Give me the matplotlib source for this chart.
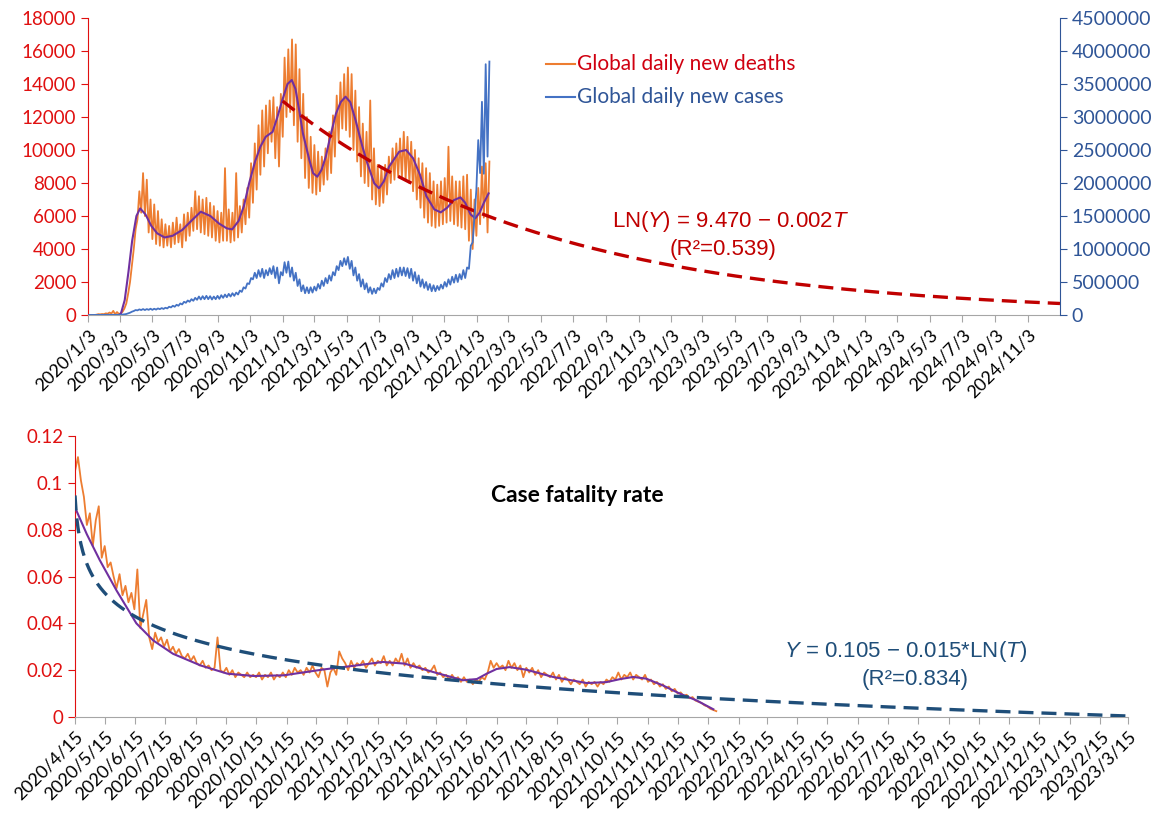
import matplotlib
matplotlib.use("Agg")
import matplotlib.pyplot as plt
from matplotlib.ticker import FuncFormatter
import numpy as np
import pandas as pd

plt.rcParams['font.family'] = ['Lato', 'DejaVu Sans']
plt.rcParams['mathtext.fontset'] = 'custom'
plt.rcParams['mathtext.rm'] = 'Liberation Sans'
plt.rcParams['mathtext.it'] = 'Liberation Sans:italic'

# ---------------- top chart data: one low/high pair per week, weeks start 2020/1/5 ----------------
deaths_lo = [0, 0, 20, 40,
             50, 80, 90, 40,
             60, 200, 700, 2000, 4000,
             5800, 6200, 6000, 5000,
             4600, 4300, 4200, 4100, 4200,
             4100, 4300, 4400, 4100,
             4500, 4800, 5100, 5200, 5000,
             4900, 4800, 4700, 4500,
             4400, 4500, 4500, 4400,
             4500, 4700, 5000, 5500,
             5900, 6800, 7600, 8500,
             9000, 9800, 10500, 9500, 9000,
             10800, 12000, 12300, 11500,
             10500, 9500, 8300, 7700,
             7400, 7300, 7500, 7900, 8200,
             8600, 9600, 10500, 11300,
             11200, 10800, 10000, 9300,
             8400, 8000, 7800, 7000, 6700,
             6600, 6800, 7300, 8000,
             8200, 8400, 8300, 8200,
             8000, 7500, 7000, 6500, 5900,
             5600, 5400, 5300, 5400,
             5500, 5600, 5700, 5500,
             5400, 5300, 5200, 4500, 4000,
             4800, 5500, 5900, 5000]
deaths_hi = [0, 0, 50, 60,
             100, 150, 250, 180,
             100, 400, 1300, 3000, 5200,
             7500, 8600, 8200, 7000,
             6700, 6300, 5800, 5500, 5400,
             5600, 5900, 5500, 6100,
             6200, 6500, 7500, 7200, 7000,
             7100, 6800, 6600, 6300,
             6200, 8900, 6400, 6200,
             8600, 6600, 7000, 7700,
             9200, 10400, 11500, 12400,
             12700, 13000, 13200, 12600, 13400,
             15600, 16100, 16700, 16400,
             14900, 13400, 12000, 10800,
             10300, 9900, 9600, 10100, 11100,
             12100, 13300, 14100, 14600,
             15000, 14600, 13600, 12600,
             11600, 11100, 13000, 10100, 9100,
             8900, 9100, 9600, 10100,
             10400, 10700, 11100, 10800,
             10500, 10000, 9500, 9200, 8900,
             8600, 8100, 7900, 8100,
             8300, 10200, 8400, 8100,
             8100, 8400, 8500, 7600, 7000,
             7700, 9000, 9200, 9300]

# daily new cases, thousands
cases_lo = [0, 0, 0.4, 1.5,
            3, 2.5, 1.5, 1.5,
            2, 6, 15, 35, 60,
            70, 75, 75, 78,
            78, 82, 88, 92, 100,
            115, 125, 140, 160,
            185, 200, 215, 230, 235,
            240, 240, 235, 240,
            245, 260, 270, 280,
            290, 310, 350, 400,
            470, 540, 560, 580,
            560, 600, 620, 560, 480,
            600, 640, 580, 520,
            440, 360, 330, 330,
            340, 370, 400, 440, 480,
            520, 600, 680, 740,
            760, 700, 600, 520,
            430, 390, 340, 320, 330,
            380, 430, 500, 540,
            560, 580, 600, 590,
            560, 520, 480, 430, 410,
            380, 360, 360, 380,
            400, 430, 460, 490,
            500, 540, 560, 700, 1100,
            1900, 2150, 2140, 2400]
cases_hi = [0, 0, 0.6, 2,
            4, 3.5, 2.5, 2,
            3, 10, 25, 50, 75,
            85, 90, 90, 95,
            95, 100, 105, 110, 125,
            140, 155, 175, 200,
            220, 240, 260, 280, 285,
            290, 285, 280, 290,
            300, 310, 320, 330,
            340, 370, 420, 480,
            560, 640, 680, 700,
            680, 710, 740, 720, 650,
            800, 810, 720, 640,
            540, 450, 420, 420,
            430, 470, 520, 560, 600,
            650, 740, 820, 860,
            880, 820, 720, 620,
            540, 480, 420, 400, 410,
            480, 560, 620, 680,
            700, 720, 720, 710,
            700, 650, 600, 540, 500,
            470, 450, 440, 460,
            500, 540, 580, 610,
            620, 680, 720, 1050, 1500,
            2650, 3230, 3800, 3840]

smooth_dates = ['2020-02-09', '2020-02-25', '2020-03-05', '2020-03-12', '2020-03-19', '2020-03-26',
                '2020-04-03', '2020-04-10', '2020-04-20', '2020-05-01', '2020-05-12', '2020-05-26',
                '2020-06-10', '2020-06-28', '2020-07-15', '2020-08-02', '2020-08-20', '2020-09-05',
                '2020-09-20', '2020-09-30', '2020-10-12', '2020-10-22', '2020-11-01', '2020-11-12',
                '2020-11-22', '2020-12-02', '2020-12-15', '2020-12-24', '2021-01-02', '2021-01-12',
                '2021-01-20', '2021-01-27', '2021-02-03', '2021-02-10', '2021-02-22', '2021-03-01',
                '2021-03-09', '2021-03-17', '2021-03-25', '2021-04-03', '2021-04-13', '2021-04-22',
                '2021-05-01', '2021-05-10', '2021-05-20', '2021-06-01', '2021-06-10', '2021-06-24',
                '2021-07-03', '2021-07-12', '2021-07-22', '2021-08-10', '2021-08-23', '2021-09-05',
                '2021-09-18', '2021-09-30', '2021-10-15', '2021-10-27', '2021-11-08', '2021-11-20',
                '2021-12-03', '2021-12-12', '2021-12-22', '2021-12-31', '2022-01-08', '2022-01-16',
                '2022-01-25']
smooth_deaths = [-130, -180, 100, 900, 2600, 4500,
                 6000, 6460, 6100, 5400, 4950, 4700,
                 4800, 5150, 5700, 6260, 6000, 5550,
                 5250, 5190, 5700, 6600, 8000, 9300,
                 10200, 10800, 11100, 12000, 13000, 14000,
                 14240, 13700, 12400, 11000, 9400, 8600,
                 8380, 8800, 9600, 10900, 12200, 12900,
                 13230, 12900, 11800, 10300, 9300, 7980,
                 7680, 8100, 9000, 9900, 10000, 9500,
                 8500, 7200, 6400, 6220, 6500, 6950,
                 7130, 6800, 6100, 5860, 6200, 6800,
                 7370]

# exponential trendline shown on the chart: LN(Y) = a - b*T, T in days from 2021/1/3
death_fit = (9.470, 0.002)

# ---------------- bottom chart data: case fatality rate, every 3 days from 2020/4/15 ----------------
cfr = [0.105, 0.111, 0.101, 0.094, 0.082, 0.087, 0.073, 0.084, 0.090, 0.068,
       0.073, 0.064, 0.066, 0.060, 0.055, 0.061, 0.052, 0.056, 0.049, 0.053,
       0.046, 0.063, 0.038, 0.044, 0.050, 0.034, 0.029, 0.036, 0.032, 0.034,
       0.030, 0.033, 0.028, 0.030, 0.027, 0.029, 0.026, 0.025, 0.027, 0.024,
       0.026, 0.023, 0.022, 0.024, 0.021, 0.022, 0.020, 0.021, 0.034, 0.020,
       0.019, 0.021, 0.018, 0.020, 0.017, 0.019, 0.018, 0.017, 0.019, 0.017,
       0.018, 0.017, 0.019, 0.016, 0.018, 0.017, 0.019, 0.016, 0.018, 0.017,
       0.019, 0.017, 0.020, 0.018, 0.021, 0.019, 0.020, 0.018, 0.021, 0.019,
       0.022, 0.019, 0.017, 0.021, 0.020, 0.013, 0.019, 0.021, 0.018, 0.028,
       0.025, 0.023, 0.020, 0.024, 0.021, 0.023, 0.022, 0.024, 0.021, 0.023,
       0.025, 0.022, 0.024, 0.023, 0.026, 0.022, 0.024, 0.022, 0.025, 0.023,
       0.027, 0.022, 0.025, 0.021, 0.023, 0.021, 0.022, 0.020, 0.021, 0.019,
       0.020, 0.022, 0.018, 0.019, 0.017, 0.018, 0.016, 0.018, 0.016, 0.017,
       0.015, 0.017, 0.015, 0.016, 0.014, 0.016, 0.015, 0.017, 0.016, 0.019,
       0.024, 0.021, 0.023, 0.021, 0.022, 0.020, 0.024, 0.021, 0.023, 0.020,
       0.022, 0.017, 0.021, 0.019, 0.021, 0.018, 0.020, 0.017, 0.019, 0.018,
       0.017, 0.019, 0.016, 0.018, 0.015, 0.017, 0.016, 0.014, 0.016, 0.015,
       0.014, 0.016, 0.013, 0.015, 0.014, 0.015, 0.013, 0.015, 0.014, 0.016,
       0.015, 0.017, 0.016, 0.019, 0.016, 0.018, 0.017, 0.019, 0.016, 0.018,
       0.017, 0.016, 0.018, 0.015, 0.016, 0.014, 0.015, 0.013, 0.014, 0.012,
       0.013, 0.011, 0.012, 0.010, 0.0105, 0.009, 0.0095, 0.008, 0.0085, 0.007,
       0.0065, 0.006, 0.005, 0.0045, 0.0035, 0.003, 0.0025]

cfr_smooth_dates = ['2020-04-15', '2020-04-27', '2020-05-10', '2020-05-27', '2020-06-16', '2020-07-03',
                    '2020-07-23', '2020-08-20', '2020-09-16', '2020-10-13', '2020-11-12', '2020-12-22',
                    '2021-01-24', '2021-02-20', '2021-03-14', '2021-04-12', '2021-05-12', '2021-05-26',
                    '2021-06-05', '2021-06-15', '2021-06-28', '2021-07-15', '2021-08-11', '2021-09-14',
                    '2021-10-04', '2021-10-18', '2021-10-31', '2021-11-13', '2021-11-30', '2021-12-17',
                    '2022-01-03', '2022-01-20']
cfr_smooth = [0.0895, 0.078, 0.067, 0.054, 0.040, 0.0327,
              0.027, 0.022, 0.0185, 0.0175, 0.0178, 0.0203,
              0.022, 0.0235, 0.0228, 0.0192, 0.0157, 0.0162,
              0.0185, 0.0205, 0.0213, 0.0202, 0.0171, 0.0145,
              0.0149, 0.0162, 0.0171, 0.0164, 0.0135, 0.0100,
              0.0071, 0.0033]

# log trendline shown on the chart: Y = a - b*LN(T), T in days from 2020/4/13
cfr_fit = (0.105, 0.015)

ORANGE = '#ED7D31'
BLUE = '#4472C4'
PURPLE = '#7030A0'
RED = '#C00000'
LRED = '#E01010'
NAVY = '#1F4E79'
DBLUE = '#2F5597'
GRAY = '#A6A6A6'

W, H = 1168, 832
fig = plt.figure(figsize=(W / 100, H / 100), dpi=100)


def box(l, t, r, b):
    return [l / W, 1 - b / H, (r - l) / W, (b - t) / H]


# ---------------- top chart ----------------
ax1 = fig.add_axes(box(88, 18, 1060, 315))
ax2 = ax1.twinx()

pts = pd.date_range('2020-01-05', periods=2 * len(deaths_lo), freq='84h')
deaths = np.column_stack([deaths_lo, deaths_hi]).ravel()
cases = np.column_stack([cases_lo, cases_hi]).ravel() * 1000

ax1.plot(pts, deaths, color=ORANGE, lw=1.3, zorder=2)
ax1.plot(pd.to_datetime(smooth_dates), smooth_deaths, color=PURPLE, lw=1.5, zorder=3)
fit_t = pd.date_range('2021-01-03', '2025-01-03', freq='D')
T = (fit_t - fit_t[0]).days.values
ax1.plot(fit_t, np.exp(death_fit[0] - death_fit[1] * T), color=RED, lw=2.4,
         dashes=(4.5, 2.4), zorder=4)
ax2.plot(pts, cases, color=BLUE, lw=1.3)

ax1.set_xlim(pd.Timestamp('2020-01-03'), pd.Timestamp('2025-01-03'))
ax1.set_ylim(0, 18000)
ax1.set_yticks(np.arange(0, 18001, 2000))
ax2.set_ylim(0, 4500000)
ax2.set_yticks(np.arange(0, 4500001, 500000))
ax2.yaxis.set_major_formatter(FuncFormatter(lambda v, p: f"{int(round(v))}"))

xt = pd.date_range('2020-01-03', '2024-11-03', freq=pd.DateOffset(months=2))
ax1.set_xticks(xt)
ax1.set_xticklabels([f"{d.year}/{d.month}/{d.day}" for d in xt], rotation=45,
                    ha='right', va='top', rotation_mode='anchor', fontsize=13)

for s in ['top', 'right']:
    ax1.spines[s].set_visible(False)
for s in ['top', 'left', 'bottom']:
    ax2.spines[s].set_visible(False)
ax1.spines['left'].set_color(LRED)
ax1.spines['bottom'].set_color(GRAY)
ax2.spines['right'].set_color(DBLUE)
ax1.tick_params(axis='y', colors=LRED, labelsize=13.5, length=5)
ax1.tick_params(axis='x', colors=GRAY, labelcolor='black', length=5)
ax2.tick_params(axis='y', colors=DBLUE, labelcolor=DBLUE, labelsize=14, length=5)

fig.text(731 / W, 1 - 222 / H, r"LN($\mathit{Y}$) = 9.470 $-$ 0.002$\mathit{T}$",
         color=RED, fontsize=16, family='Liberation Sans', ha='center', va='center')
fig.text(723 / W, 1 - 249 / H, "(R²=0.539)", color=RED, fontsize=16,
         family='Liberation Sans', ha='center', va='center')

fig.lines.append(plt.Line2D([546 / W, 575 / W], [1 - 64 / H, 1 - 64 / H],
                            color=ORANGE, lw=1.5, transform=fig.transFigure))
fig.lines.append(plt.Line2D([546 / W, 575 / W], [1 - 97 / H, 1 - 97 / H],
                            color=BLUE, lw=1.5, transform=fig.transFigure))
fig.text(577 / W, 1 - 64 / H, "Global daily new deaths", color='#D00010', fontsize=15,
         ha='left', va='center')
fig.text(577 / W, 1 - 97 / H, "Global daily new cases", color=DBLUE, fontsize=15,
         ha='left', va='center')

# ---------------- bottom chart ----------------
ax3 = fig.add_axes(box(75, 436, 1128, 717))
cfr_x = pd.date_range('2020-04-15', periods=len(cfr), freq='3D')
ax3.plot(cfr_x, cfr, color=ORANGE, lw=1.3, zorder=2)
ax3.plot(pd.to_datetime(cfr_smooth_dates), cfr_smooth, color=PURPLE, lw=1.5, zorder=3)
fit_x = pd.date_range('2020-04-15', '2023-03-15', freq='D')
Tc = (fit_x - pd.Timestamp('2020-04-13')).days.values
ax3.plot(fit_x, cfr_fit[0] - cfr_fit[1] * np.log(Tc), color=NAVY, lw=2.4,
         dashes=(4.5, 2.4), zorder=4)

ax3.set_xlim(pd.Timestamp('2020-04-15'), pd.Timestamp('2023-03-15'))
ax3.set_ylim(0, 0.12)
yt = [0, 0.02, 0.04, 0.06, 0.08, 0.1, 0.12]
ax3.set_yticks(yt)
ax3.set_yticklabels(['0', '0.02', '0.04', '0.06', '0.08', '0.1', '0.12'])
xt3 = pd.date_range('2020-04-15', '2023-03-15', freq=pd.DateOffset(months=1))
ax3.set_xticks(xt3)
ax3.set_xticklabels([f"{d.year}/{d.month}/{d.day}" for d in xt3], rotation=45,
                    ha='right', va='top', rotation_mode='anchor', fontsize=13)
for s in ['top', 'right']:
    ax3.spines[s].set_visible(False)
ax3.spines['left'].set_color(LRED)
ax3.spines['bottom'].set_color(GRAY)
ax3.tick_params(axis='y', colors=LRED, labelsize=13.5, length=5)
ax3.tick_params(axis='x', colors=GRAY, labelcolor='black', length=5)

fig.text(577 / W, 1 - 496 / H, "Case fatality rate", fontsize=16.5, fontweight='bold',
         ha='center', va='center')
fig.text(906 / W, 1 - 652 / H, r"$\mathit{Y}$ = 0.105 $-$ 0.015*LN($\mathit{T}$)",
         color=NAVY, fontsize=16, family='Liberation Sans', ha='center', va='center')
fig.text(915 / W, 1 - 680 / H, "(R²=0.834)", color=NAVY, fontsize=16,
         family='Liberation Sans', ha='center', va='center')

fig.savefig('out.png', dpi=100)
